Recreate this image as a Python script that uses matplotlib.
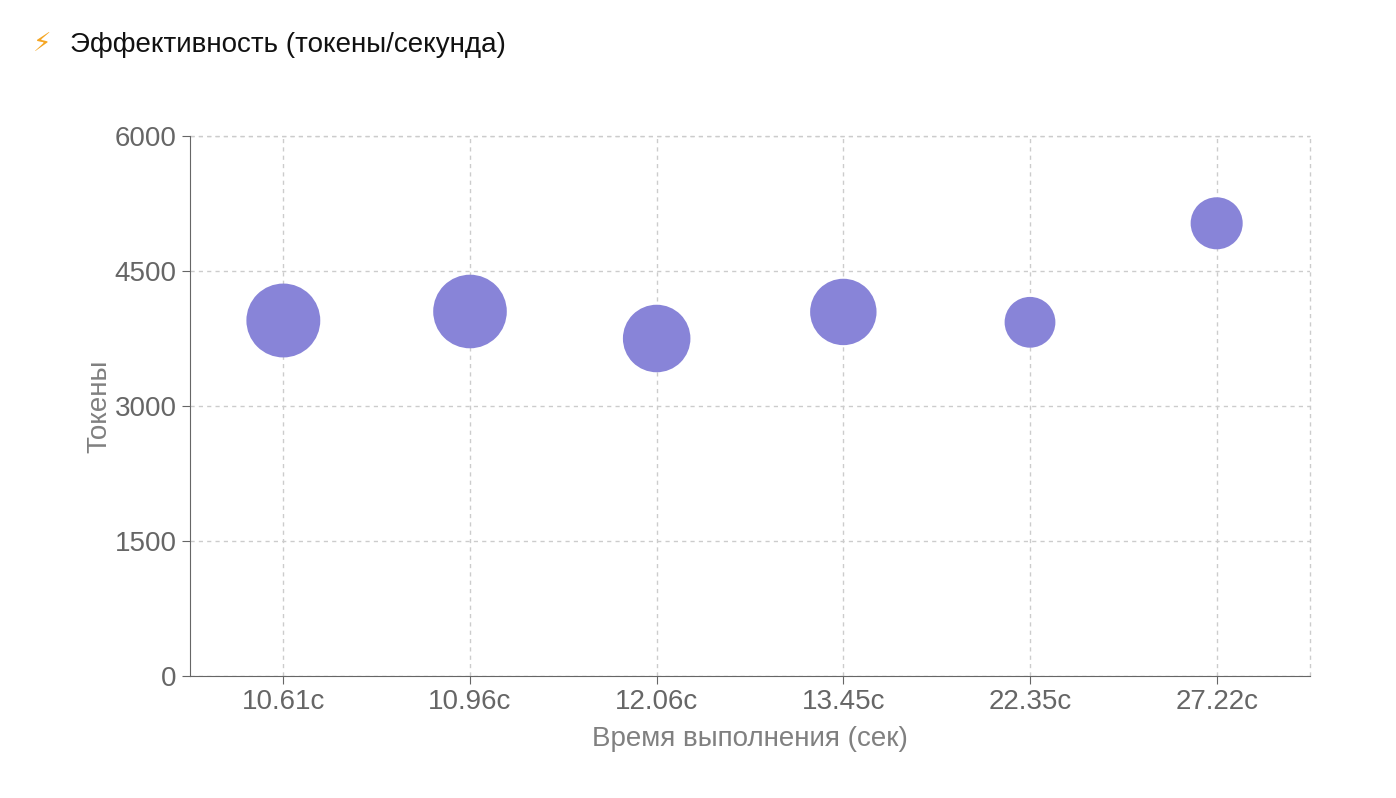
import matplotlib
matplotlib.use("Agg")
import matplotlib.pyplot as plt

labels = ["10.61с", "10.96с", "12.06с", "13.45с", "22.35с", "27.22с"]
times = [10.61, 10.96, 12.06, 13.45, 22.35, 27.22]
tokens = [3950, 4050, 3750, 4045, 3930, 5030]
yticks = [0, 1500, 3000, 4500, 6000]

tps = [t / s for t, s in zip(tokens, times)]

plt.rcParams['font.family'] = ['Liberation Sans', 'DejaVu Sans']
fig = plt.figure(figsize=(13.96, 7.98), dpi=100)
ax = fig.add_axes([190/1396, 1-676/798, 1120/1396, 540/798])
x = list(range(len(labels)))
ax.scatter(x, tokens, s=[v * 7.6 for v in tps], color="#8884d8", zorder=3, linewidths=0)
ax.set_xlim(-0.5, len(labels) - 0.5)
ax.set_ylim(0, 6000)
ax.set_xticks(x)
ax.set_xticklabels(labels)
ax.set_yticks(yticks)
ax.tick_params(colors="#666666", labelsize=20, length=6)
for t in ax.get_xticklabels() + ax.get_yticklabels():
    t.set_color("#666666")
ax.grid(True, linestyle=(0, (3, 3)), color="#cccccc", linewidth=1)
for side in ["top", "right"]:
    ax.spines[side].set_visible(False)
for side in ["left", "bottom"]:
    ax.spines[side].set_color("#666666")
ax.plot([-0.5, 5.5], [6000, 6000], linestyle=(0, (3, 3)), color="#cccccc", lw=1, clip_on=False)
ax.plot([5.5, 5.5], [0, 6000], linestyle=(0, (3, 3)), color="#cccccc", lw=1, clip_on=False)
ax.set_xlabel("Время выполнения (сек)", fontsize=20, color="#808080", labelpad=8)
ax.set_ylabel("Токены", fontsize=20, color="#808080", labelpad=2)

fig.text(33/1396, 1-45/798, "⚡", fontsize=19, color="#f5a623", va="center", family=['DejaVu Sans'])
fig.text(70/1396, 1-45/798, "Эффективность (токены/секунда)", fontsize=20, color="#111111", va="center")
fig.savefig("out.png", dpi=100)
